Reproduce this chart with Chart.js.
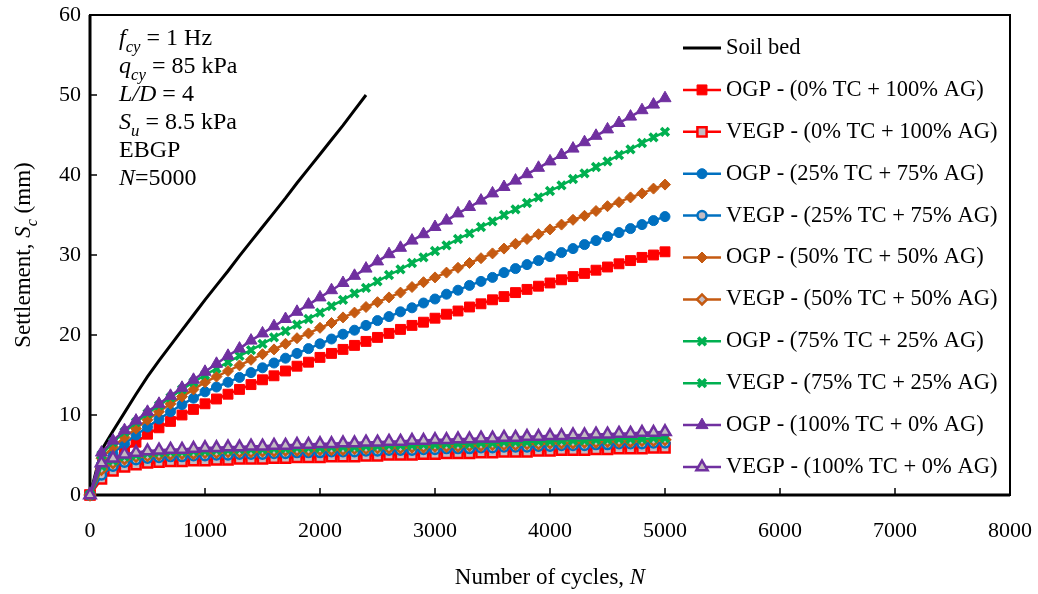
<!DOCTYPE html>
<html>
<head>
<meta charset="utf-8">
<script src="https://cdn.jsdelivr.net/npm/chart.js@4.4.1/dist/chart.umd.min.js"></script>
<style>
  html, body { margin: 0; padding: 0; background: #fff; }
  #wrap { width: 1038px; height: 594px; }
</style>
</head>
<body>
<div id="wrap"><canvas id="chart" width="1038" height="594"></canvas></div>
<script>
// number of cycles, N
var cycles = [0,100,200,300,400,500,600,700,800,900,1000,1100,1200,1300,1400,1500,1600,1700,1800,1900,2000,
  2100,2200,2300,2400,2500,2600,2700,2800,2900,3000,3100,3200,3300,3400,3500,3600,3700,3800,3900,4000,
  4100,4200,4300,4400,4500,4600,4700,4800,4900,5000];
var soilCycles = [0,100,200,300,400,500,600,700,800,900,1000,1100,1200,1300,1400,1500,1600,1700,1800,1900,2000,
  2100,2200,2300,2400];

// settlement, Sc (mm)
var soilBed = [0,5.6,8.0,10.3,12.6,14.8,16.8,18.7,20.6,22.5,24.4,26.2,28.0,29.9,31.7,33.5,35.3,37.1,39.0,40.8,42.6,
  44.4,46.2,48.1,50.0];

var ogp0 = [0,2.9,4.3,5.5,6.6,7.6,8.4,9.2,10.0,10.7,11.4,
  12.0,12.6,13.2,13.8,14.4,14.9,15.5,16.1,16.6,17.2,
  17.7,18.2,18.7,19.2,19.7,20.2,20.7,21.2,21.6,22.1,
  22.6,23.0,23.5,23.9,24.4,24.8,25.3,25.7,26.1,26.5,
  26.9,27.3,27.7,28.1,28.5,28.9,29.3,29.7,30.0,30.4];
var vegp0 = [0,2.0,3.0,3.5,3.8,4.0,4.1,4.2,4.2,4.3,
  4.3,4.4,4.4,4.5,4.5,4.5,4.6,4.6,4.7,4.7,4.7,4.8,4.8,4.8,4.9,4.9,5.0,5.0,5.0,5.1,5.1,
  5.2,5.2,5.2,5.3,5.3,5.4,5.4,5.4,5.5,5.5,5.6,5.6,5.6,5.7,5.7,5.8,5.8,5.8,5.9,5.9];

var ogp25 = [0,3.8,5.2,6.4,7.5,8.5,9.5,10.4,11.3,12.1,12.9,
  13.5,14.1,14.7,15.3,15.9,16.5,17.1,17.7,18.3,18.9,
  19.5,20.1,20.6,21.2,21.8,22.3,22.9,23.4,24.0,24.5,
  25.1,25.6,26.2,26.7,27.2,27.8,28.3,28.8,29.3,29.8,
  30.3,30.8,31.3,31.8,32.3,32.8,33.3,33.8,34.3,34.8];
var vegp25 = [0,2.5,3.6,4.1,4.4,4.6,4.7,4.8,4.8,4.9,
  4.9,5.0,5.0,5.1,5.1,5.1,5.2,5.2,5.3,5.3,5.3,5.4,5.4,5.4,5.5,5.5,5.6,5.6,5.6,5.7,5.7,
  5.8,5.8,5.8,5.9,5.9,6.0,6.0,6.0,6.1,6.1,6.2,6.2,6.2,6.3,6.3,6.4,6.4,6.4,6.5,6.5];

var ogp50 = [0,4.6,6.0,7.2,8.3,9.4,10.4,11.4,12.3,13.2,14.1,
  14.8,15.5,16.2,16.9,17.6,18.2,18.9,19.6,20.2,20.9,
  21.5,22.2,22.8,23.5,24.1,24.7,25.3,26.0,26.6,27.2,
  27.8,28.4,29.0,29.6,30.2,30.8,31.4,32.0,32.6,33.2,
  33.8,34.4,34.9,35.5,36.1,36.6,37.2,37.7,38.3,38.8];
var vegp50 = [0,3.2,4.0,4.5,4.8,4.9,5.0,5.1,5.2,5.2,
  5.3,5.3,5.4,5.4,5.4,5.5,5.5,5.6,5.6,5.6,5.7,5.7,5.7,5.8,5.8,5.9,5.9,5.9,6.0,6.0,
  6.1,6.1,6.1,6.2,6.2,6.3,6.3,6.3,6.4,6.4,6.5,6.5,6.5,6.6,6.6,6.7,6.7,6.7,6.8,6.8,6.9];

var ogp75 = [0,5.0,6.6,7.9,9.1,10.2,11.2,12.2,13.2,14.1,15.0,
  15.8,16.6,17.4,18.1,18.9,19.7,20.5,21.3,22.0,22.8,
  23.6,24.4,25.2,25.9,26.7,27.5,28.2,29.0,29.7,30.5,
  31.2,32.0,32.7,33.5,34.2,35.0,35.7,36.5,37.2,38.0,
  38.7,39.5,40.2,41.0,41.7,42.5,43.2,44.0,44.7,45.4];
var vegp75 = [0,3.6,4.3,4.8,5.0,5.2,5.3,5.4,5.4,5.5,
  5.5,5.6,5.6,5.7,5.7,5.7,5.8,5.8,5.9,5.9,5.9,6.0,6.0,6.0,6.1,6.1,6.2,6.2,6.2,6.3,
  6.3,6.4,6.4,6.4,6.5,6.5,6.6,6.6,6.6,6.7,6.7,6.8,6.8,6.8,6.9,6.9,7.0,7.0,7.0,7.1,7.1];

var ogp100 = [0,5.3,6.8,8.1,9.3,10.4,11.4,12.4,13.4,14.4,15.4,
  16.4,17.4,18.3,19.3,20.2,21.1,22.0,22.9,23.8,24.7,
  25.6,26.5,27.4,28.3,29.2,30.1,30.9,31.8,32.6,33.5,
  34.3,35.2,36.0,36.8,37.7,38.5,39.3,40.1,40.9,41.7,
  42.5,43.3,44.1,44.9,45.7,46.5,47.3,48.1,48.8,49.6];
var vegp100 = [0,4.0,4.6,5.1,5.3,5.5,5.6,5.7,5.7,5.8,
  5.9,5.9,6.0,6.0,6.1,6.1,6.2,6.2,6.3,6.3,6.4,6.4,6.5,6.5,6.6,6.6,6.7,6.7,6.8,6.8,
  6.9,6.9,7.0,7.0,7.1,7.1,7.2,7.2,7.3,7.3,7.4,7.4,7.5,7.5,7.6,7.6,7.7,7.7,7.8,7.8,7.9];

var FONT = '"Liberation Serif", "Times New Roman", serif';
var HOLLOW = '#c4bcc2';

function pts(xs, ys) {
  return ys.map(function (v, i) { return { x: xs[i], y: v }; });
}

function series(label, ys, color, style, radius, fill, pbw) {
  return {
    label: label,
    data: pts(cycles, ys),
    borderColor: color,
    borderWidth: 2.5,
    pointStyle: style,
    pointRadius: radius,
    pointBorderColor: color,
    pointBackgroundColor: fill,
    pointBorderWidth: pbw,
    tension: 0,
    clip: false
  };
}

var datasets = [
  { label: 'Soil bed', data: pts(soilCycles, soilBed), borderColor: '#000', borderWidth: 3,
    pointRadius: 0, tension: 0, clip: false },
  series('OGP - (0% TC + 100% AG)', ogp0, '#ff0000', 'rect', 7, '#ff0000', 1),
  series('VEGP - (0% TC + 100% AG)', vegp0, '#ff0000', 'rect', 6.5, HOLLOW, 2.5),
  series('OGP - (25% TC + 75% AG)', ogp25, '#0070c0', 'circle', 5, '#0070c0', 1),
  series('VEGP - (25% TC + 75% AG)', vegp25, '#0070c0', 'circle', 4.5, HOLLOW, 2.5),
  series('OGP - (50% TC + 50% AG)', ogp50, '#c55a11', 'rectRot', 5.5, '#c55a11', 1),
  series('VEGP - (50% TC + 50% AG)', vegp50, '#c55a11', 'rectRot', 5, HOLLOW, 2.5),
  series('OGP - (75% TC + 25% AG)', ogp75, '#00b050', 'crossRot', 5.5, '#00b050', 3.5),
  series('VEGP - (75% TC + 25% AG)', vegp75, '#00b050', 'crossRot', 5.5, '#00b050', 3.5),
  series('OGP - (100% TC + 0% AG)', ogp100, '#7030a0', 'triangle', 7, '#7030a0', 1),
  series('VEGP - (100% TC + 0% AG)', vegp100, '#7030a0', 'triangle', 6.5, HOLLOW, 2.5)
];
// later series are drawn on top, like the original
datasets.forEach(function (d, i) { d.order = datasets.length - i; });

// draws text made of styled runs (italic, subscript)
function richWidth(ctx, parts, size) {
  var w = 0;
  parts.forEach(function (p) {
    ctx.font = (p.it ? 'italic ' : '') + (p.sub ? size * 0.7 : size) + 'px ' + FONT;
    w += ctx.measureText(p.t).width;
  });
  return w;
}
function richText(ctx, parts, x, y, size) {
  parts.forEach(function (p) {
    ctx.font = (p.it ? 'italic ' : '') + (p.sub ? size * 0.7 : size) + 'px ' + FONT;
    ctx.fillText(p.t, x, y + (p.sub ? size * 0.3 : 0));
    x += ctx.measureText(p.t).width;
  });
}

var notes = [
  [{ t: 'f', it: 1 }, { t: 'cy', it: 1, sub: 1 }, { t: ' = 1 Hz' }],
  [{ t: 'q', it: 1 }, { t: 'cy', it: 1, sub: 1 }, { t: ' = 85 kPa' }],
  [{ t: 'L/D', it: 1 }, { t: ' = 4' }],
  [{ t: 'S', it: 1 }, { t: 'u', it: 1, sub: 1 }, { t: ' = 8.5 kPa' }],
  [{ t: 'EBGP' }],
  [{ t: 'N', it: 1 }, { t: '=5000' }]
];

var framePlugin = {
  id: 'frame',
  beforeDatasetsDraw: function (chart) {
    var ctx = chart.ctx, a = chart.chartArea, sx = chart.scales.x, sy = chart.scales.y;
    ctx.save();
    ctx.strokeStyle = '#000';
    ctx.lineWidth = 2;
    ctx.strokeRect(a.left, a.top, a.right - a.left, a.bottom - a.top);
    ctx.lineWidth = 3;
    ctx.beginPath();
    ctx.moveTo(a.left, a.top); ctx.lineTo(a.left, a.bottom); ctx.lineTo(a.right, a.bottom);
    ctx.stroke();
    ctx.lineWidth = 1.5;
    sx.ticks.forEach(function (t) {
      var px = sx.getPixelForValue(t.value);
      ctx.beginPath(); ctx.moveTo(px, a.bottom); ctx.lineTo(px, a.bottom - 7); ctx.stroke();
    });
    sy.ticks.forEach(function (t) {
      var py = sy.getPixelForValue(t.value);
      ctx.beginPath(); ctx.moveTo(a.left, py); ctx.lineTo(a.left + 7, py); ctx.stroke();
    });
    ctx.restore();
  },
  afterDraw: function (chart) {
    var ctx = chart.ctx, a = chart.chartArea;
    ctx.save();
    ctx.fillStyle = '#000';
    ctx.textBaseline = 'alphabetic';

    // axis titles
    var xt = [{ t: 'Number of cycles, ' }, { t: 'N', it: 1 }];
    var w = richWidth(ctx, xt, 23);
    richText(ctx, xt, (a.left + a.right) / 2 - w / 2, 584, 23);

    var yt = [{ t: 'Settlement, ' }, { t: 'S', it: 1 }, { t: 'c', it: 1, sub: 1 }, { t: ' (mm)' }];
    ctx.save();
    ctx.translate(30, (a.top + a.bottom) / 2);
    ctx.rotate(-Math.PI / 2);
    w = richWidth(ctx, yt, 23);
    richText(ctx, yt, -w / 2, 0, 23);
    ctx.restore();

    // test conditions
    notes.forEach(function (line, i) {
      richText(ctx, line, 119, 45 + i * 28, 24);
    });

    // legend, inside the plot area
    chart.data.datasets.forEach(function (ds, i) {
      var y = 48 + i * 41.9;
      ctx.strokeStyle = ds.borderColor;
      ctx.lineWidth = ds.borderWidth;
      ctx.beginPath(); ctx.moveTo(683, y); ctx.lineTo(721, y); ctx.stroke();
      if (ds.pointRadius > 0) {
        ctx.fillStyle = ds.pointBackgroundColor;
        ctx.strokeStyle = ds.pointBorderColor;
        ctx.lineWidth = ds.pointBorderWidth;
        Chart.helpers.drawPoint(ctx, { pointStyle: ds.pointStyle, radius: ds.pointRadius,
          borderWidth: ds.pointBorderWidth, rotation: 0 }, 702, y);
      }
      ctx.fillStyle = '#000';
      ctx.font = '22.5px ' + FONT;
      ctx.textBaseline = 'middle';
      ctx.fillText(ds.label, 726, y);
      ctx.textBaseline = 'alphabetic';
    });
    ctx.restore();
  }
};

new Chart(document.getElementById('chart'), {
  type: 'line',
  data: { datasets: datasets },
  options: {
    responsive: false,
    animation: false,
    events: [],
    layout: { padding: { top: 15, right: 28, left: 0, bottom: 0 } },
    plugins: { legend: { display: false }, tooltip: { enabled: false } },
    scales: {
      x: {
        type: 'linear', min: 0, max: 8000,
        grid: { display: false, drawTicks: false },
        border: { display: false },
        ticks: { stepSize: 1000, color: '#000', padding: 23, maxRotation: 0,
          font: { family: FONT, size: 22 },
          callback: function (v) { return String(v); } },
        afterFit: function (s) { s.height = 99; s.paddingLeft = 0; s.paddingRight = 0; }
      },
      y: {
        min: 0, max: 60,
        grid: { display: false, drawTicks: false },
        border: { display: false },
        ticks: { stepSize: 10, color: '#000', padding: 9,
          font: { family: FONT, size: 22 } },
        afterFit: function (s) { s.width = 90; s.paddingTop = 0; s.paddingBottom = 0; }
      }
    }
  },
  plugins: [framePlugin]
});
</script>
</body>
</html>
